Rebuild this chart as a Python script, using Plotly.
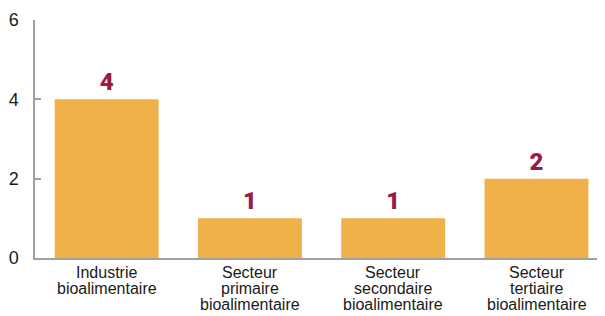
import plotly.graph_objects as go

categories = ["Industrie bioalimentaire", "Secteur primaire bioalimentaire",
              "Secteur secondaire bioalimentaire", "Secteur tertiaire bioalimentaire"]
label_lines = [["Industrie", "bioalimentaire"],
               ["Secteur", "primaire", "bioalimentaire"],
               ["Secteur", "secondaire", "bioalimentaire"],
               ["Secteur", "tertiaire", "bioalimentaire"]]
values = [4, 1, 1, 2]
y_ticks = [0, 2, 4, 6]

narrow = "Liberation Sans Narrow, Arial Narrow, sans-serif"

fig = go.Figure(go.Bar(
    x=categories, y=values,
    marker=dict(color="#F0B04A", line=dict(width=0)),
    text=[str(v) for v in values], textposition="outside", cliponaxis=False,
    textfont=dict(family="Roboto, sans-serif", size=24, color="#9B1B45", weight=900),
))

for cat, lines in zip(categories, label_lines):
    for i, line in enumerate(lines):
        fig.add_annotation(x=cat, y=0, xref="x", yref="y", text=line, showarrow=False,
                           yanchor="middle", xanchor="center", yshift=-14 - 16 * i,
                           font=dict(family=narrow, size=16, color="#1A1A1A"))

# page body has an 8px default margin; size the figure to fill the 605x316 window
fig.update_layout(
    width=597, height=308,
    margin=dict(l=27, r=0, t=12, b=58),
    paper_bgcolor="white", plot_bgcolor="white",
    bargap=0.275, showlegend=False,
    font=dict(family=narrow, color="#1A1A1A"),
)
fig.update_xaxes(
    range=[-0.5, 3.478], showline=True, linecolor="#A0A0A0", linewidth=1.5,
    ticks="", showticklabels=False, automargin=False,
)
fig.update_yaxes(
    range=[0, 6], tickvals=y_ticks, showgrid=False, zeroline=False,
    showline=True, linecolor="#A0A0A0", linewidth=1.5,
    ticks="inside", ticklen=6, tickcolor="#A0A0A0", tickwidth=1.5,
    tickfont=dict(size=18, family=narrow, color="#1A1A1A"), ticklabelstandoff=11,
    automargin=False,
)
fig.write_html("out.html")
